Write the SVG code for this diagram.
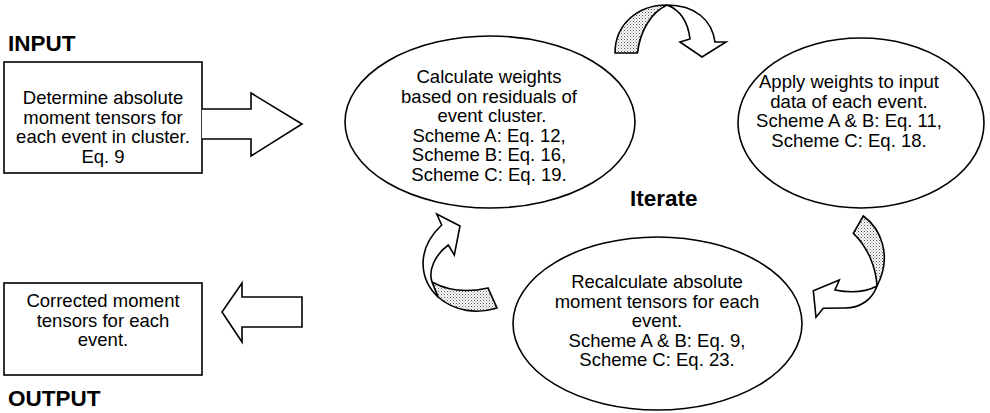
<svg xmlns="http://www.w3.org/2000/svg" width="990" height="413" viewBox="0 0 990 413">
<defs>
<pattern id="dots" width="3" height="3" patternUnits="userSpaceOnUse">
<rect width="3" height="3" fill="#fff"/>
<rect x="0" y="0" width="1" height="1" fill="#555"/>
<rect x="1.5" y="1.5" width="1" height="1" fill="#777"/>
</pattern>
</defs>
<style>
.shape{fill:#fff;stroke:#000;stroke-width:1.6;stroke-linejoin:miter}
.shade{fill:url(#dots);stroke:#000;stroke-width:1.6;stroke-linejoin:miter}
.t{font-family:"Liberation Sans",Arial,sans-serif;font-size:18.5px;fill:#000;text-anchor:middle}
.b{font-family:"Liberation Sans",Arial,sans-serif;font-size:22.5px;font-weight:bold;fill:#000}
</style>
<rect width="990" height="413" fill="#fff"/>

<text class="b" x="8" y="51">INPUT</text>
<text class="b" x="8" y="406">OUTPUT</text>
<text class="b" x="630" y="206">Iterate</text>

<g id="input">
<rect class="shape" x="4" y="62" width="198" height="111"/>
<text class="t" x="103" y="104">Determine absolute</text>
<text class="t" x="103" y="123.5">moment tensors for</text>
<text class="t" x="103" y="143">each event in cluster.</text>
<text class="t" x="103" y="162.5">Eq. 9</text>
</g>

<g id="output">
<rect class="shape" x="4" y="283" width="198" height="92"/>
<text class="t" x="103" y="307">Corrected moment</text>
<text class="t" x="103" y="326.5">tensors for each</text>
<text class="t" x="103" y="346">event.</text>
</g>

<g id="calc">
<ellipse class="shape" cx="490" cy="122" rx="145" ry="86"/>
<text class="t" x="489" y="83">Calculate weights</text>
<text class="t" x="489" y="102.5">based on residuals of</text>
<text class="t" x="492" y="122">event cluster.</text>
<text class="t" x="489" y="141.5">Scheme A: Eq. 12,</text>
<text class="t" x="489" y="161">Scheme B: Eq. 16,</text>
<text class="t" x="489" y="180.5">Scheme C: Eq. 19.</text>
</g>

<g id="apply">
<ellipse class="shape" cx="861" cy="123" rx="123" ry="85"/>
<text class="t" x="849" y="88">Apply weights to input</text>
<text class="t" x="849" y="107.5">data of each event.</text>
<text class="t" x="849" y="127">Scheme A &amp; B: Eq. 11,</text>
<text class="t" x="849" y="146.5">Scheme C: Eq. 18.</text>
</g>

<g id="recalc">
<ellipse class="shape" cx="657.5" cy="323.5" rx="144.5" ry="86.5"/>
<text class="t" x="657" y="288">Recalculate absolute</text>
<text class="t" x="657" y="307.5">moment tensors for each</text>
<text class="t" x="657" y="327">event.</text>
<text class="t" x="657" y="346.5">Scheme A &amp; B: Eq. 9,</text>
<text class="t" x="657" y="366">Scheme C: Eq. 23.</text>
</g>

<g id="connectors">
<!-- input block arrow -->
<path class="shape" d="M202,109 H251 V93 L302,124 L251,156 V139 H202"/>
<!-- output block arrow -->
<path class="shape" d="M302,297 H242 V283 L222,312 L242,342 V327 H302 Z"/>
<!-- top curved arrow -->
<path class="shade" d="M615,53 C615,25 637,5 667,5 C652,12 640,30 637.5,53 Z"/>
<path class="shape" d="M667,5 C695,5 712,20 715,42 L726,42 L702,57 L680,42 L690,39 C688,22 680,10 667,5 Z"/>
<!-- right curved arrow -->
<path class="shade" d="M853.3,233.3 L863.3,216 C880,228 893,255 877,286 C876,268 868,247 853.3,233.3 Z"/>
<path class="shape" d="M877,286 C872,300 860,308 845,308 L823.3,308.3 L816,317.3 L813.3,290.7 L839.3,280 L835,290 C850,293 866,292 877,286 Z"/>
<!-- left curved arrow -->
<path class="shade" d="M432,282 C450,292 470,292 488,288 L497,308 C478,314 455,312 438,297 Z"/>
<path class="shape" d="M441.7,225 L436.7,214 L460,226 L454.3,255 L448.3,245 C435,255 428,270 432,282 L438,297 C420,280 415,250 441.7,225 Z"/>
</g>
</svg>
